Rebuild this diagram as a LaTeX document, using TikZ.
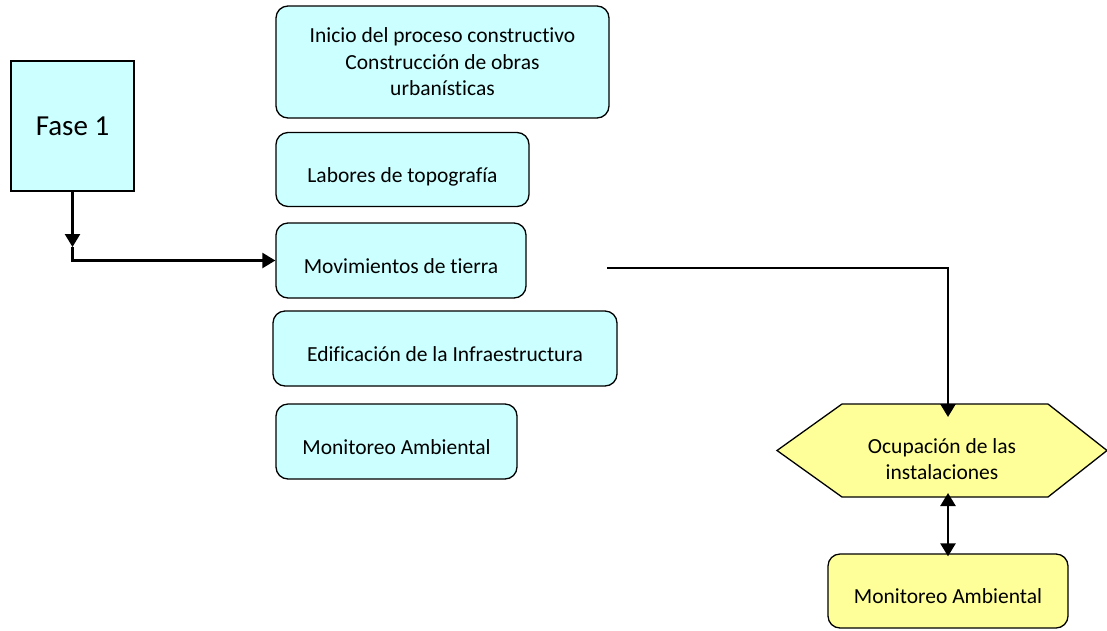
\documentclass[tikz,border=0pt]{standalone}
\usepackage{fontspec}
\setmainfont{Carlito}[Ligatures={NoCommon}]
\definecolor{faseColour}{RGB}{204, 255, 255}
\definecolor{ocupColour}{RGB}{255, 255, 153}
\usetikzlibrary{
    arrows.meta,
    scopes,
    positioning
}
\pgfdeclarelayer{background}
\pgfsetlayers{background,main}
\tikzset{
    etapaDiagram/.style={
        fase/.style={
            rectangle,
            draw,
            line width=1.3pt,
            minimum width=123pt,
            minimum height=130pt,
            fill = faseColour,
            font = \fontsize{29}{35}\selectfont,
        },
        etapa/.style = {
            rectangle,
            rounded corners=12pt,
            draw,
            line width=1.3pt,
            minimum height=75pt,
            align=center,
            fill = faseColour,
            font = \fontsize{21.5}{26.5}\selectfont,
        },
        etapaLinea/.style = {
            etapa,
            text height=29pt,
            text depth=4pt,
        },
        etapa2/.style = {
            etapaLinea,
            fill = ocupColour,
        },
        ocupacion/.style = {
            rectangle,
            minimum width=330pt,
            minimum height=93pt,
            inner sep=0pt,
            outer sep=0pt,
            align=center,
            text height=60pt,
            text depth=3pt,
            font = \fontsize{21.5}{26}\selectfont,
        },
        hexagono/.style = {
            draw,
            line width=1.3pt,
            fill = ocupColour,
        },
        flecha/.style = {
            ->,
            line width=2.4pt,
        },
    }
}
\begin{document}
\begin{tikzpicture}[
        x=1pt, y=-1pt,
        etapaDiagram,
        >={Triangle[length=13pt, width=15pt]},
    ]
    \useasboundingbox (0,0) rectangle (1107,630);

    \begin{scope}
        \node[fase] (f1_fase) at (72.5, 126) {Fase 1};
        \node[etapa, minimum width=333pt, minimum height=112pt] (f1_inicio) at (442.5, 62)
            {Inicio del proceso constructivo\\Construcción de obras\\urbanísticas};
        \node[etapaLinea, minimum width=253pt, minimum height=74pt] (f1_topo) at (402.5, 169.5) {Labores de topografía};
        \node[etapaLinea, minimum width=250pt] (f1_mov) at (401, 260.5) {Movimientos de tierra};
        \node[etapaLinea, minimum width=344pt] (f1_edif) at (445, 348.5) {Edificación de la Infraestructura};
        \node[etapaLinea, minimum width=241pt] (f1_monit) at (396.5, 441.5) {Monitoreo Ambiental};
    \end{scope}

    \begin{scope}
        \node[ocupacion] (f2_ocup) at (942, 450.5) {Ocupación de las\\instalaciones};
        \node[etapa2, minimum width=240pt, minimum height=74pt] (f2_monit) at (948, 591) {Monitoreo Ambiental};
    \end{scope}

    % hexagono detras del texto
    \begin{pgfonlayer}{background}
        \draw[hexagono] (f2_ocup.west) -- ([xshift=65pt]f2_ocup.north west)
            -- ([xshift=-59pt]f2_ocup.north east) -- (f2_ocup.east)
            -- ([xshift=-59pt]f2_ocup.south east) -- ([xshift=65pt]f2_ocup.south west) -- cycle;
    \end{pgfonlayer}

    \coordinate (f1_codo) at (72.5, 247);
    \coordinate (f1_salida) at (607, 268);

    \draw[flecha] (f1_fase.south) -- (f1_codo);
    \draw[flecha] (f1_codo) |- (f1_mov.west);
    \draw[flecha, shorten >=-13pt] (f1_salida) -| ([xshift=6pt]f2_ocup.north);

    \begin{scope} [every edge/.style={draw, line width=2.4pt}]
        \path [<->, shorten <=-4pt, shorten >=-3pt] ([xshift=6pt]f2_ocup.south) edge (f2_monit.north);
    \end{scope}
\end{tikzpicture}
\end{document}
